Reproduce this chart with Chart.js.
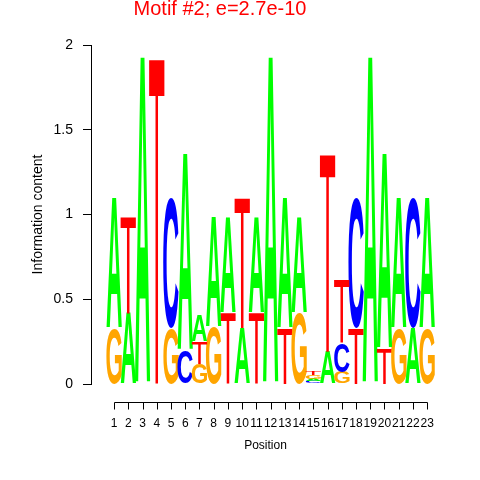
<!DOCTYPE html>
<html>
<head>
<meta charset="utf-8">
<script src="https://cdn.jsdelivr.net/npm/chart.js@4"></script>
<style>
  html, body { margin: 0; padding: 0; background: #fff; }
  #wrap { width: 480px; height: 480px; }
</style>
</head>
<body>
<div id="wrap"><canvas id="logo" width="480" height="480"></canvas></div>
<script>
const positions = [1, 2, 3, 4, 5, 6, 7, 8, 9, 10, 11, 12, 13, 14, 15, 16, 17, 18, 19, 20, 21, 22, 23];
const heightA = [0.77, 0.42, 1.93, 0, 0, 1.16, 0.15, 0.65, 0.56, 0.33, 0.56, 1.93, 0.77, 0.56, 0.017, 0.19, 0, 0, 1.93, 1.15, 0.77, 0.33, 0.77];
const heightC = [0, 0, 0, 0, 0.77, 0.20, 0, 0, 0, 0, 0, 0, 0, 0, 0.015, 0, 0.17, 0.77, 0, 0, 0, 0.77, 0];
const heightG = [0.33, 0, 0, 0, 0.33, 0, 0.12, 0.34, 0, 0, 0, 0, 0, 0.42, 0.02, 0, 0.07, 0, 0, 0, 0.33, 0, 0.33];
const heightT = [0, 0.57, 0, 1.93, 0, 0, 0.13, 0, 0.42, 0.77, 0.42, 0, 0.33, 0, 0.025, 1.17, 0.37, 0.33, 0, 0.21, 0, 0, 0];
const yTicks = [0, 0.5, 1, 1.5, 2];

const ntColors = { A: '#00ff00', C: '#0000ff', G: '#ffa500', T: '#ff0000' };
const ntWeight = { A: 'bold', C: 'bold', G: 'bold', T: 'normal' };
const heights = { A: heightA, C: heightC, G: heightG, T: heightT };

// seqLogo style: smallest letter at the bottom of each column
const layers = [[], [], [], []];
positions.forEach((p, i) => {
  const order = ['A', 'C', 'G', 'T']
    .filter(nt => heights[nt][i] > 0)
    .sort((a, b) => heights[a][i] - heights[b][i]);
  order.forEach((nt, k) => layers[k].push({ x: p, y: heights[nt][i], nt: nt }));
});

const FONT = '"Liberation Sans", Arial, Helvetica, sans-serif';
Chart.defaults.font.family = FONT;
Chart.defaults.color = '#000';

// draws each bar as a stretched letter glyph
const letterPlugin = {
  id: 'letters',
  afterDatasetsDraw(chart) {
    const ctx = chart.ctx;
    ctx.save();
    ctx.textAlign = 'left';
    ctx.textBaseline = 'alphabetic';
    const metrics = {};
    chart.data.datasets.forEach((ds, di) => {
      const meta = chart.getDatasetMeta(di);
      meta.data.forEach((bar, idx) => {
        const { x, y, base, width } = bar.getProps(['x', 'y', 'base', 'width'], true);
        const h = base - y;
        if (h < 0.3) return;
        const nt = ds.data[idx].nt;
        ctx.font = ntWeight[nt] + ' 200px ' + FONT;
        if (!metrics[nt]) metrics[nt] = ctx.measureText(nt);
        const m = metrics[nt];
        const gw = m.actualBoundingBoxLeft + m.actualBoundingBoxRight;
        const gh = m.actualBoundingBoxAscent + m.actualBoundingBoxDescent;
        ctx.save();
        ctx.translate(x - width / 2, y);
        ctx.scale(width / gw, h / gh);
        ctx.fillStyle = ntColors[nt];
        ctx.fillText(nt, m.actualBoundingBoxLeft, m.actualBoundingBoxAscent);
        ctx.restore();
      });
    });
    ctx.restore();
  }
};

// R style x axis: line from first to last position, sitting a little under the plot
const xAxisPlugin = {
  id: 'xAxisLine',
  afterDraw(chart) {
    const xs = chart.scales.x;
    const ctx = chart.ctx;
    const yLine = Math.round(chart.chartArea.bottom + 18) + 0.5;
    ctx.save();
    ctx.strokeStyle = '#000';
    ctx.lineWidth = 1;
    ctx.beginPath();
    ctx.moveTo(Math.round(xs.getPixelForValue(positions[0])) + 0.5, yLine);
    ctx.lineTo(Math.round(xs.getPixelForValue(positions[positions.length - 1])) + 0.5, yLine);
    positions.forEach(p => {
      const px = Math.round(xs.getPixelForValue(p)) + 0.5;
      ctx.moveTo(px, yLine);
      ctx.lineTo(px, yLine + 7);
    });
    ctx.stroke();
    ctx.restore();
  }
};

new Chart(document.getElementById('logo'), {
  type: 'bar',
  data: {
    datasets: layers.map((layer, k) => ({
      label: 'layer ' + (k + 1),
      data: layer,
      backgroundColor: 'rgba(0,0,0,0)',
      borderWidth: 0,
      barPercentage: 1.08,
      categoryPercentage: 1
    }))
  },
  options: {
    responsive: false,
    animation: false,
    layout: { padding: { left: 0, right: 40, top: 0, bottom: 0 } },
    plugins: {
      legend: { display: false },
      tooltip: { enabled: false },
      title: {
        display: true,
        text: 'Motif #2; e=2.7e-10',
        color: '#ff0000',
        font: { size: 20, weight: 'normal' },
        padding: { top: -3, bottom: 24 }
      }
    },
    scales: {
      x: {
        type: 'linear',
        stacked: true,
        offset: false,
        min: -0.62,
        max: 23.9,
        afterBuildTicks: s => { s.ticks = positions.map(v => ({ value: v })); },
        afterFit: s => { s.height = 96; s.paddingLeft = 0; s.paddingRight = 0; },
        grid: { display: false, offset: false },
        border: { display: false },
        ticks: {
          autoSkip: false,
          maxRotation: 0,
          padding: 24,
          font: { size: 12 },
          callback: v => String(v)
        },
        title: {
          display: true,
          text: 'Position',
          font: { size: 12 },
          padding: { top: 0, bottom: 27 }
        }
      },
      y: {
        stacked: true,
        min: 0,
        max: 2,
        afterBuildTicks: s => { s.ticks = yTicks.map(v => ({ value: v })); },
        afterFit: s => { s.width = 91; s.paddingTop = 0; s.paddingBottom = 0; },
        grid: { drawOnChartArea: false, tickLength: 8, color: '#000' },
        border: { display: true, color: '#000' },
        ticks: { padding: 10, font: { size: 14 }, callback: v => String(v) },
        title: {
          display: true,
          text: 'Information content',
          font: { size: 14 },
          padding: { top: 30, bottom: 0 }
        }
      }
    }
  },
  plugins: [letterPlugin, xAxisPlugin]
});
</script>
</body>
</html>
